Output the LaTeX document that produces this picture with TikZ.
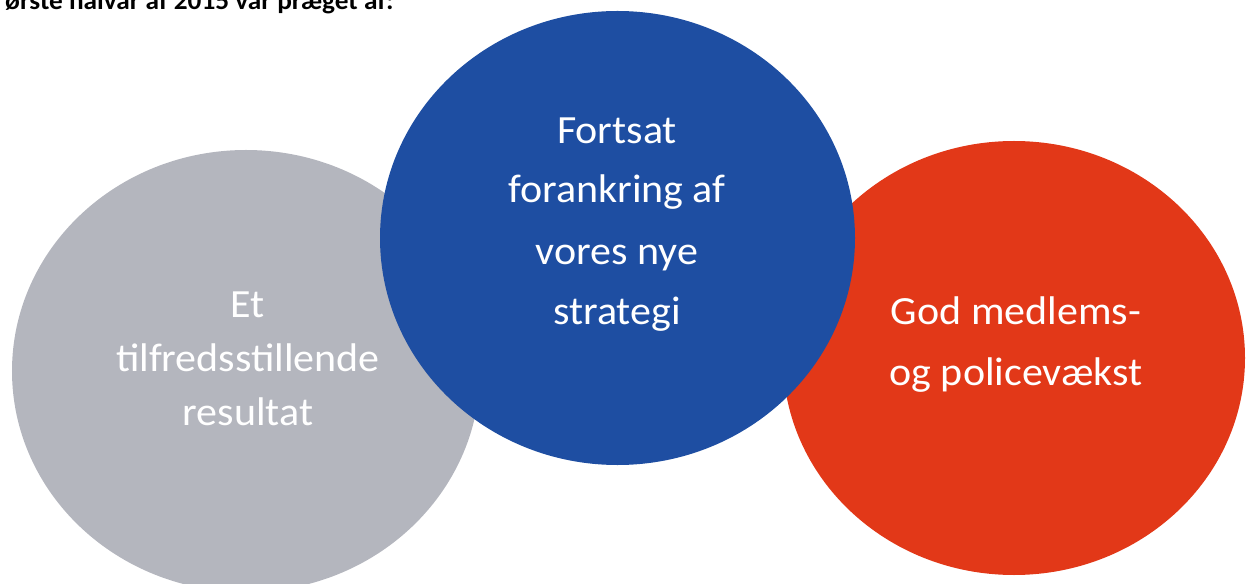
\documentclass[tikz,border=0pt]{standalone}
\usepackage{fontspec}
\setmainfont{Carlito}[FakeStretch=1.05]
\usetikzlibrary{shapes.geometric}
\definecolor{cgrey}{RGB}{180,182,190}
\definecolor{cblue}{RGB}{30,78,162}
\definecolor{cred}{RGB}{226,56,24}
\begin{document}
\begin{tikzpicture}[x=1bp,y=-1bp,
  blob/.style={ellipse, inner sep=0pt, draw=none},
  lbl/.style={text=white, anchor=base, inner sep=0pt, font=\fontsize{40bp}{48bp}\selectfont},
  headline/.style={text=black, anchor=base west, inner sep=0pt, font=\fontsize{26bp}{30bp}\selectfont\bfseries}]
\useasboundingbox (0,0) rectangle (1247,584);
\node[headline] (head) at (5,10) {ørste halvår af 2015 var præget af:};
\node[blob, fill=cgrey, minimum width=468bp, minimum height=442bp] (grey) at (246,371) {};
\node[blob, fill=cred, minimum width=462bp, minimum height=434bp] (red) at (1014,358) {};
\node[blob, fill=cblue, minimum width=475bp, minimum height=454bp] (blue) at (617.5,238) {};
\node[lbl] (g1) at (248,318) {Et};
\node[lbl] (g2) at (248,372) {tilfredsstillende};
\node[lbl] (g3) at (248,425) {resultat};
\node[lbl] (b1) at (617,144) {Fortsat};
\node[lbl] (b2) at (617,203) {forankring af};
\node[lbl] (b3) at (617,265) {vores nye};
\node[lbl] (b4) at (617,325) {strategi};
\node[lbl] (r1) at (1016,325) {God medlems-};
\node[lbl] (r2) at (1016,385) {og policevækst};
\end{tikzpicture}
\end{document}
